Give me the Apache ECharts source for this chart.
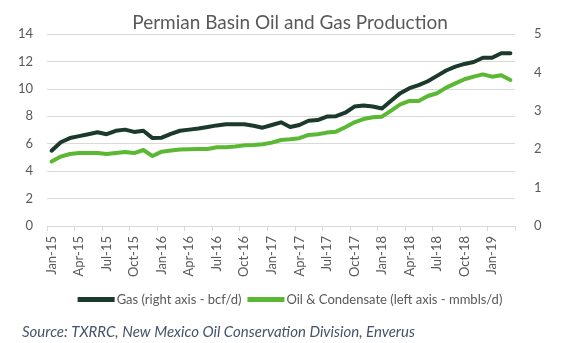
<!DOCTYPE html>
<html>
<head>
<meta charset="utf-8">
<script src="https://cdn.jsdelivr.net/npm/echarts@6/dist/echarts.min.js"></script>
<style>
  html, body { margin: 0; padding: 0; background: #ffffff; }
  #chart { width: 580px; height: 343px; }
</style>
</head>
<body>
<div id="chart"></div>
<script>
// Monthly categories, Jan-15 to Mar-19
const months = [
  'Jan-15','Feb-15','Mar-15','Apr-15','May-15','Jun-15','Jul-15','Aug-15','Sep-15','Oct-15','Nov-15','Dec-15',
  'Jan-16','Feb-16','Mar-16','Apr-16','May-16','Jun-16','Jul-16','Aug-16','Sep-16','Oct-16','Nov-16','Dec-16',
  'Jan-17','Feb-17','Mar-17','Apr-17','May-17','Jun-17','Jul-17','Aug-17','Sep-17','Oct-17','Nov-17','Dec-17',
  'Jan-18','Feb-18','Mar-18','Apr-18','May-18','Jun-18','Jul-18','Aug-18','Sep-18','Oct-18','Nov-18','Dec-18',
  'Jan-19','Feb-19','Mar-19'
];

// Gas, plotted against the right axis (bcf/d)
const gas = [
  1.96, 2.18, 2.29, 2.34, 2.39, 2.44, 2.39, 2.48, 2.51, 2.45, 2.48, 2.29,
  2.30, 2.40, 2.48, 2.51, 2.54, 2.58, 2.62, 2.65, 2.65, 2.65, 2.61, 2.56,
  2.63, 2.70, 2.58, 2.63, 2.74, 2.76, 2.85, 2.86, 2.95, 3.11, 3.14, 3.11,
  3.06, 3.26, 3.46, 3.59, 3.67, 3.77, 3.91, 4.05, 4.15, 4.22, 4.27, 4.38,
  4.38, 4.50, 4.50
];

// Oil & condensate, plotted against the left axis (mmbls/d)
const oil = [
  4.70, 5.06, 5.25, 5.32, 5.32, 5.32, 5.25, 5.32, 5.40, 5.32, 5.54, 5.10,
  5.42, 5.50, 5.57, 5.60, 5.62, 5.62, 5.74, 5.74, 5.79, 5.88, 5.90, 5.96,
  6.08, 6.27, 6.32, 6.40, 6.64, 6.69, 6.81, 6.88, 7.20, 7.56, 7.80, 7.93,
  7.97, 8.41, 8.87, 9.12, 9.12, 9.48, 9.68, 10.09, 10.40, 10.70, 10.89, 11.06,
  10.89, 10.99, 10.65
];

const seriesNames = ['Gas (right axis - bcf/d)', 'Oil & Condensate (left axis - mmbls/d)'];
const titleText = 'Permian Basin Oil and Gas Production';
const sourceText = 'Source: TXRRC, New Mexico Oil Conservation Division, Enverus';

const FONT = 'Lato';
const GREY = '#595959';
const GRID = '#d9d9d9';

const chart = echarts.init(document.getElementById('chart'), null, { renderer: 'canvas' });

chart.setOption({
  animation: false,
  backgroundColor: '#ffffff',
  textStyle: { fontFamily: FONT },
  title: [
    {
      text: titleText,
      left: 'center',
      top: 8,
      textStyle: { fontFamily: FONT, fontSize: 19, fontWeight: 'normal', color: GREY }
    },
    {
      text: sourceText,
      left: 17,
      top: 320,
      textStyle: { fontFamily: FONT, fontSize: 15, fontWeight: 'normal', fontStyle: 'italic', color: '#44546a' }
    }
  ],
  legend: {
    data: seriesNames,
    left: 'center',
    top: 288,
    icon: 'rect',
    itemWidth: 37,
    itemHeight: 5,
    itemGap: 6,
    textStyle: { fontFamily: FONT, fontSize: 13, color: GREY, padding: [0, 0, 0, -3] }
  },
  grid: { left: 47, right: 65, top: 34, bottom: 117, containLabel: false },
  xAxis: {
    type: 'category',
    data: months,
    boundaryGap: true,
    axisLine: { show: true, lineStyle: { color: GRID, width: 1 } },
    axisTick: { show: true, interval: 2, length: 5, lineStyle: { color: GRID } },
    axisLabel: { interval: 2, rotate: 90, fontFamily: FONT, fontSize: 13, color: GREY, margin: 10 },
    splitLine: { show: false }
  },
  yAxis: [
    {
      type: 'value',
      min: 0, max: 14, interval: 2,
      position: 'left',
      axisLine: { show: false },
      axisTick: { show: false },
      axisLabel: { fontFamily: FONT, fontSize: 13, color: GREY, margin: 14 },
      splitLine: { show: true, lineStyle: { color: GRID, width: 1 } }
    },
    {
      type: 'value',
      min: 0, max: 5, interval: 1,
      position: 'right',
      axisLine: { show: false },
      axisTick: { show: false },
      axisLabel: { fontFamily: FONT, fontSize: 13, color: GREY, margin: 19 },
      splitLine: { show: false }
    }
  ],
  series: [
    {
      name: seriesNames[0],
      type: 'line',
      yAxisIndex: 1,
      data: gas,
      symbol: 'none',
      lineStyle: { color: '#1b3a2b', width: 4, join: 'round', cap: 'round' },
      itemStyle: { color: '#1b3a2b' },
      z: 3
    },
    {
      name: seriesNames[1],
      type: 'line',
      yAxisIndex: 0,
      data: oil,
      symbol: 'none',
      lineStyle: { color: '#5ab832', width: 4, join: 'round', cap: 'round' },
      itemStyle: { color: '#5ab832' },
      z: 2
    }
  ]
});
</script>
</body>
</html>
